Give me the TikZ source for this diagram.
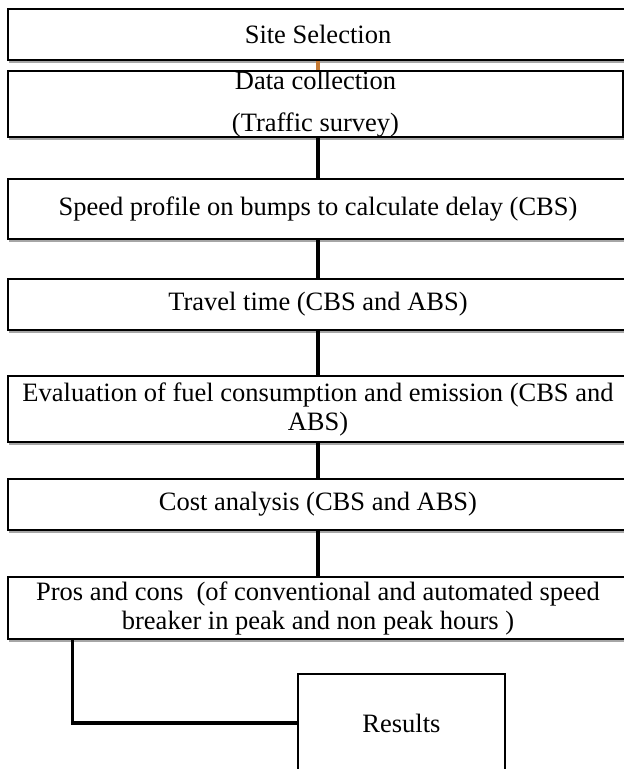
\documentclass[tikz,border=0pt]{standalone}
\usepackage{fontspec}
\setmainfont{Liberation Serif}
\usetikzlibrary{shadows}
\definecolor{linkorange}{RGB}{196,121,52}
\tikzset{
  flowbox/.style={draw=black, line width=1.8pt, fill=white, align=center,
    minimum width=620pt, inner sep=0pt,
    font=\fontsize{26.5}{29}\selectfont,
    drop shadow={shadow xshift=1.2pt, shadow yshift=-2.8pt, fill=black, opacity=0.35}},
  link/.style={draw=black, line width=3.5pt},
}
\begin{document}
\begin{tikzpicture}[x=1pt,y=-1pt]
\useasboundingbox (0,0) rectangle (624,769);
\clip (0,0) rectangle (624,769);
\node[flowbox, minimum height=51pt] (s1) at (318,34.5) {Site Selection};
\node[flowbox, minimum width=615pt, minimum height=64pt] (s2) at (315.5,104) {Data collection\\[13pt](Traffic survey)};
\node[flowbox, minimum height=60pt] (s3) at (318,209) {Speed profile on bumps to calculate delay (CBS)};
\node[flowbox, minimum height=51pt] (s4) at (318,304.5) {Travel time (CBS and ABS)};
\node[flowbox, minimum height=66pt] (s5) at (318,409) {Evaluation of fuel consumption and emission (CBS and\\ABS)};
\node[flowbox, minimum height=51pt] (s6) at (318,504.5) {Cost analysis (CBS and ABS)};
\node[flowbox, minimum height=62pt] (s7) at (318,608) {Pros and cons\ \ (of conventional and automated speed\\breaker in peak and non peak hours )};
\node[flowbox, minimum width=207pt, minimum height=98pt] (res) at (401.5,723) {Results};
\draw[link, draw=linkorange] (s1.south) -- (s1.south |- s2.north);
\draw[link] (s2.south -| s1.south) -- (s3.north);
\draw[link] (s3.south) -- (s4.north);
\draw[link] (s4.south) -- (s5.north);
\draw[link] (s5.south) -- (s6.north);
\draw[link] (s6.south) -- (s7.north);
\coordinate (c7) at ([xshift=65.5pt]s7.south west);
\draw[link] (c7) |- (res.west);
\end{tikzpicture}
\end{document}
